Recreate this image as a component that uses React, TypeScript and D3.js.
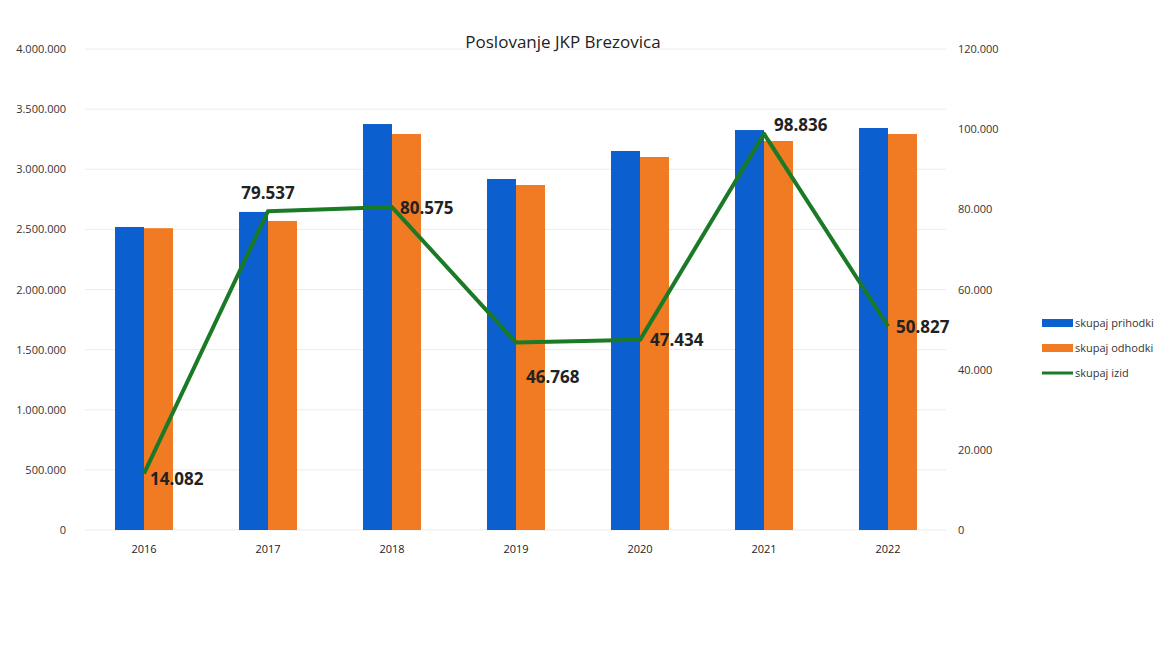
import * as d3 from "d3";

const years = ["2016", "2017", "2018", "2019", "2020", "2021", "2022"];
const prihodki = [2520000, 2645000, 3376000, 2919000, 3152000, 3326000, 3343000];
const odhodki = [2510000, 2570000, 3293000, 2869000, 3102000, 3235000, 3293000];
const izid = [14082, 79537, 80575, 46768, 47434, 98836, 50827];
const leftTicks = [0, 500000, 1000000, 1500000, 2000000, 2500000, 3000000, 3500000, 4000000];
const rightTicks = [0, 20000, 40000, 60000, 80000, 100000, 120000];
const legendLabels = ["skupaj prihodki", "skupaj odhodki", "skupaj izid"];

const width = 1163;
const height = 649;
const top = 49;
const bottom = 530;
const left = 82;
const right = 950;

const fmt = (v: number) => d3.format(",")(v).replace(/,/g, ".");

function App() {
  const x = d3.scaleBand().domain(years).range([left, right]);
  const yL = d3.scaleLinear().domain([0, 4000000]).range([bottom, top]);
  const yR = d3.scaleLinear().domain([0, 120000]).range([bottom, top]);
  const barW = 29;
  const cx = (yr: string) => (x(yr) ?? 0) + x.bandwidth() / 2;

  const line = d3
    .line<number>()
    .x((_, i) => cx(years[i]))
    .y((d) => yR(d));

  // label offsets for the data labels (dx, dy, anchor)
  const labelPos: [number, number, string][] = [
    [6, 7, "start"],
    [0, -17, "middle"],
    [8, 2, "start"],
    [10, 36, "start"],
    [10, 2, "start"],
    [10, -7, "start"],
    [8, 2, "start"],
  ];

  const colors = ["#0b5fcf", "#f07b23", "#1b7a26"];

  return (
    <svg width={width} height={height} style={{ display: "block", position: "absolute", left: 0, top: 0, background: "#fff" }}
      fontFamily="'Open Sans', 'Liberation Sans', sans-serif">
      <rect width={width} height={height} fill="#fff" />
      {leftTicks.map((t) => (
        <line key={"g" + t} x1={left + 3} x2={right - 4} y1={yL(t)} y2={yL(t)} stroke="#ececec" strokeWidth={1} />
      ))}
      {leftTicks.map((t) => (
        <text key={"l" + t} x={66} y={yL(t) + 4} textAnchor="end" fontSize={11} fill="#333">
          {fmt(t)}
        </text>
      ))}
      {rightTicks.map((t) => (
        <text key={"r" + t} x={958} y={yR(t) + 4} textAnchor="start" fontSize={11} fill="#333">
          {fmt(t)}
        </text>
      ))}
      {years.map((yr, i) => (
        <g key={yr}>
          <rect x={cx(yr) - barW} y={yL(prihodki[i])} width={barW} height={bottom - yL(prihodki[i])} fill={colors[0]} />
          <rect x={cx(yr)} y={yL(odhodki[i])} width={barW} height={bottom - yL(odhodki[i])} fill={colors[1]} />
          <text x={cx(yr)} y={553} textAnchor="middle" fontSize={11} fill="#222">
            {yr}
          </text>
        </g>
      ))}
      <path d={line(izid) ?? ""} fill="none" stroke={colors[2]} strokeWidth={4} strokeLinejoin="round" />
      {izid.map((v, i) => (
        <text key={"d" + i} x={cx(years[i]) + labelPos[i][0]} y={yR(v) + labelPos[i][1]} textAnchor={labelPos[i][2] as any}
          fontSize={17} fontWeight="bold" fill="#222" dominantBaseline="middle">
          {fmt(v)}
        </text>
      ))}
      <text x={563} y={48} textAnchor="middle" fontSize={17} fill="#222">
        Poslovanje JKP Brezovica
      </text>
      {legendLabels.map((lab, i) => (
        <g key={lab} transform={`translate(1042, ${323 + i * 25})`}>
          {i < 2 ? (
            <rect x={0} y={-4} width={31} height={8} fill={colors[i]} />
          ) : (
            <line x1={0} x2={31} y1={0} y2={0} stroke={colors[2]} strokeWidth={3} />
          )}
          <text x={33} y={4} fontSize={11} fill="#333">
            {lab}
          </text>
        </g>
      ))}
    </svg>
  );
}

export default App;
